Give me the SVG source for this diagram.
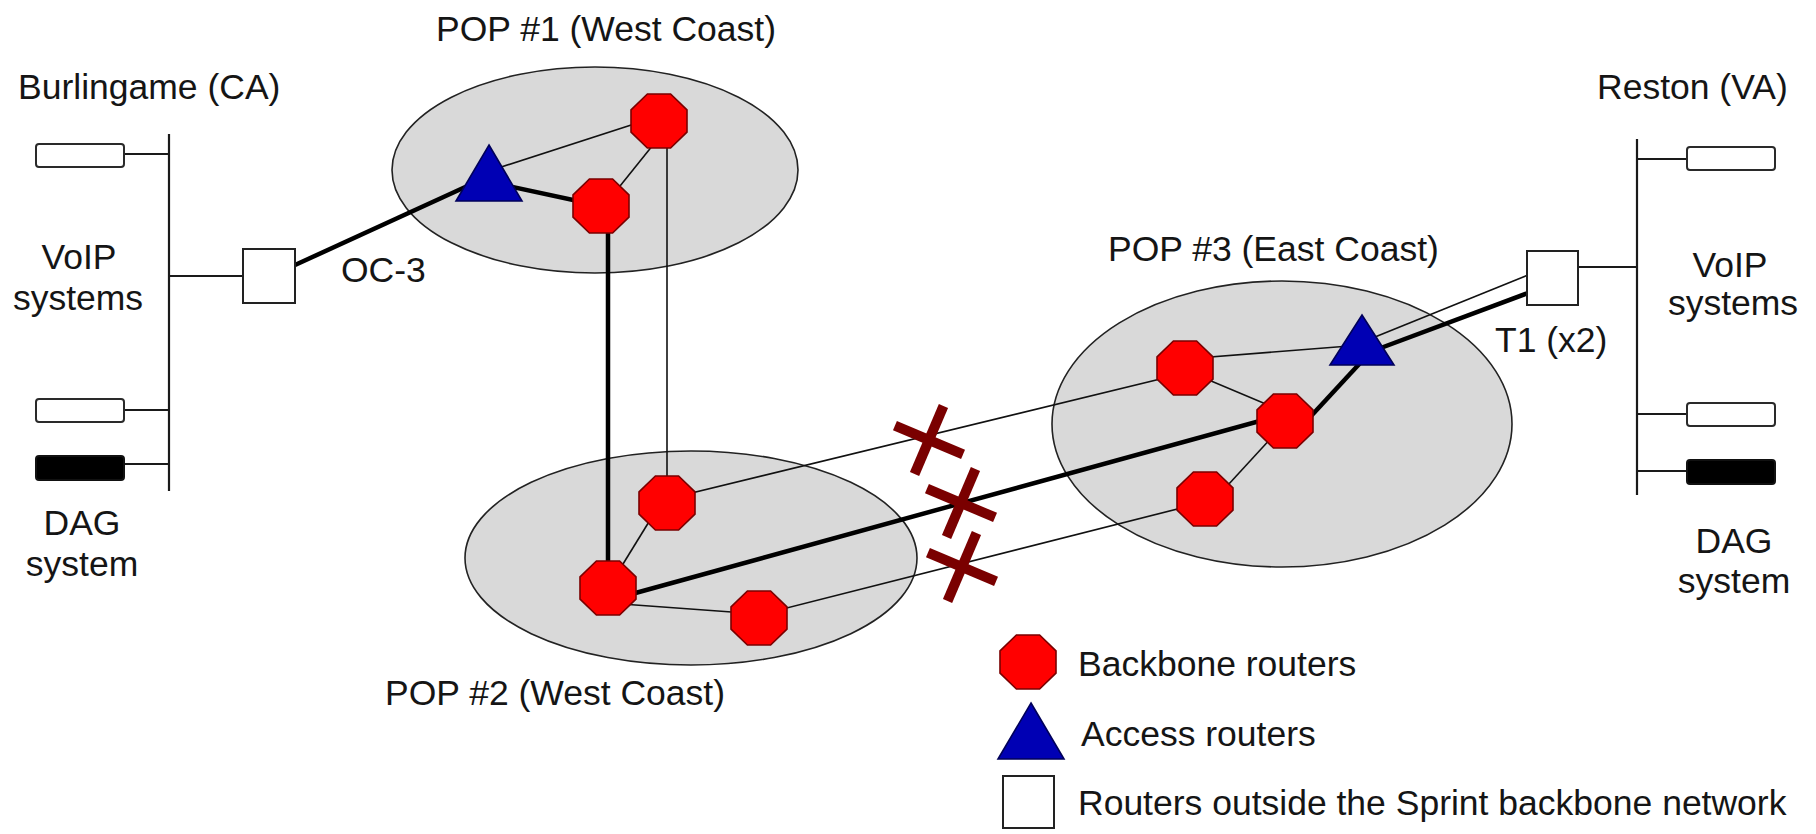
<svg xmlns="http://www.w3.org/2000/svg" xmlns:xlink="http://www.w3.org/1999/xlink" width="1816" height="834" viewBox="0 0 1816 834">
  <style>
    .txt { font-family: "Liberation Sans", Arial, sans-serif; font-size: 35.5px; fill: #151515; }
    .mid { text-anchor: middle; }
    .pop { fill: #d9d9d9; stroke: #222; stroke-width: 1.6; }
    .thin { stroke: #111; stroke-width: 1.6; fill: none; }
    .thick { stroke: #000; stroke-width: 4.5; fill: none; }
    .bus { stroke: #1a1a1a; stroke-width: 2.2; }
    .box { fill: #fff; stroke: #2a2a2a; stroke-width: 2; }
    .dag { fill: #000; stroke: #111; stroke-width: 2; }
    .oct { fill: #ff0000; stroke: #7a0000; stroke-width: 1.6; }
    .tri { fill: #0000b4; stroke: #00005a; stroke-width: 1.6; }
    .sq { fill: #fff; stroke: #222; stroke-width: 2; }
    .cut { stroke: #7a0000; stroke-width: 10; }
  </style>
  <defs>
    <!-- backbone router glyph, centred on the origin -->
    <path id="oct" d="M-11.6,-27 L11.6,-27 L28,-11.2 L28,11.2 L11.6,27 L-11.6,27 L-28,11.2 L-28,-11.2 Z"/>
    <!-- failed-link mark -->
    <g id="xmark">
      <line class="cut" x1="-37" y1="0" x2="37" y2="0"/>
      <line class="cut" x1="0" y1="-37" x2="0" y2="37"/>
    </g>
  </defs>

  <rect width="1816" height="834" fill="#fff"/>

  <!-- points of presence -->
  <g id="regions">
    <ellipse id="pop1" class="pop" cx="595" cy="170" rx="203" ry="103"/>
    <ellipse id="pop2" class="pop" cx="691" cy="558" rx="226" ry="107"/>
    <ellipse id="pop3" class="pop" cx="1282" cy="424" rx="230" ry="143"/>
  </g>

  <!-- links -->
  <g id="connectors">
    <!-- Burlingame LAN -->
    <line class="bus" x1="169" y1="134" x2="169" y2="491"/>
    <line class="bus" x1="124" y1="154" x2="169" y2="154"/>
    <line class="bus" x1="124" y1="410" x2="169" y2="410"/>
    <line class="bus" x1="124" y1="464" x2="169" y2="464"/>
    <line class="bus" x1="169" y1="276" x2="243" y2="276"/>
    <!-- OC-3 access link -->
    <line class="thick" x1="295" y1="265" x2="485" y2="178"/>
    <!-- POP 1 -->
    <line class="thick" x1="489" y1="182" x2="601" y2="206"/>
    <line class="thin" x1="495" y1="169" x2="659" y2="116"/>
    <line class="thin" x1="661" y1="135" x2="612" y2="196"/>
    <!-- POP 1 to POP 2 -->
    <line class="thin" x1="667" y1="121" x2="667" y2="503"/>
    <line class="thick" x1="608" y1="206" x2="608" y2="588"/>
    <!-- POP 2 -->
    <line class="thin" x1="655" y1="512" x2="615" y2="577"/>
    <line class="thin" x1="608" y1="603" x2="759" y2="614"/>
    <!-- POP 2 to POP 3 -->
    <line class="thick" x1="610" y1="600" x2="1285" y2="414"/>
    <line class="thin" x1="667" y1="499" x2="1185" y2="373"/>
    <line class="thin" x1="759" y1="615" x2="1205" y2="502"/>
    <!-- POP 3 -->
    <line class="thin" x1="1185" y1="370" x2="1285" y2="412"/>
    <line class="thin" x1="1285" y1="423" x2="1205" y2="510"/>
    <line class="thin" x1="1185" y1="359" x2="1362" y2="345"/>
    <line class="thick" x1="1300" y1="428" x2="1362" y2="361"/>
    <!-- T1 (x2) access links -->
    <line class="thick" x1="1362" y1="355" x2="1528" y2="293"/>
    <line class="thin" x1="1370" y1="339" x2="1528" y2="275"/>
    <!-- Reston LAN -->
    <line class="bus" x1="1578" y1="267" x2="1637" y2="267"/>
    <line class="bus" x1="1637" y1="139" x2="1637" y2="495"/>
    <line class="bus" x1="1637" y1="159" x2="1687" y2="159"/>
    <line class="bus" x1="1637" y1="414" x2="1687" y2="414"/>
    <line class="bus" x1="1637" y1="471" x2="1687" y2="471"/>
  </g>

  <!-- Burlingame hosts -->
  <g id="burlingame-voip-1"><rect class="box" x="36" y="144" width="88" height="23" rx="3"/></g>
  <g id="burlingame-voip-2"><rect class="box" x="36" y="399" width="88" height="23" rx="3"/></g>
  <g id="burlingame-dag"><rect class="dag" x="36" y="456" width="88" height="24" rx="3"/></g>
  <g id="burlingame-router"><rect class="sq" x="243" y="249" width="52" height="54"/></g>

  <!-- Reston hosts -->
  <g id="reston-voip-1"><rect class="box" x="1687" y="147" width="88" height="23" rx="3"/></g>
  <g id="reston-voip-2"><rect class="box" x="1687" y="403" width="88" height="23" rx="3"/></g>
  <g id="reston-dag"><rect class="dag" x="1687" y="460" width="88" height="24" rx="3"/></g>
  <g id="reston-router"><rect class="sq" x="1527" y="251" width="51" height="54"/></g>

  <!-- POP 1 routers -->
  <g id="pop1-access"><polygon class="tri" points="489,145 522,201 456,201"/></g>
  <g id="pop1-bb-a"><use href="#oct" xlink:href="#oct" class="oct" x="659" y="121"/></g>
  <g id="pop1-bb-b"><use href="#oct" xlink:href="#oct" class="oct" x="601" y="206"/></g>

  <!-- POP 2 routers -->
  <g id="pop2-bb-a"><use href="#oct" xlink:href="#oct" class="oct" x="667" y="503"/></g>
  <g id="pop2-bb-b"><use href="#oct" xlink:href="#oct" class="oct" x="608" y="588"/></g>
  <g id="pop2-bb-c"><use href="#oct" xlink:href="#oct" class="oct" x="759" y="618"/></g>

  <!-- POP 3 routers -->
  <g id="pop3-bb-a"><use href="#oct" xlink:href="#oct" class="oct" x="1185" y="368"/></g>
  <g id="pop3-bb-b"><use href="#oct" xlink:href="#oct" class="oct" x="1285" y="421"/></g>
  <g id="pop3-bb-c"><use href="#oct" xlink:href="#oct" class="oct" x="1205" y="499"/></g>
  <g id="pop3-access"><polygon class="tri" points="1362,315 1394,365 1330,365"/></g>

  <!-- failed inter-POP links -->
  <g id="failures">
    <use href="#xmark" xlink:href="#xmark" transform="translate(929,440) rotate(23)"/>
    <use href="#xmark" xlink:href="#xmark" transform="translate(961,503) rotate(23)"/>
    <use href="#xmark" xlink:href="#xmark" transform="translate(962,567) rotate(23)"/>
  </g>

  <!-- labels -->
  <g id="labels" class="txt">
    <text x="436" y="41">POP #1 (West Coast)</text>
    <text x="385" y="705">POP #2 (West Coast)</text>
    <text x="1108" y="261">POP #3 (East Coast)</text>
    <text x="18" y="99">Burlingame (CA)</text>
    <text x="1597" y="99">Reston (VA)</text>
    <text x="341" y="282">OC-3</text>
    <text x="1495" y="352">T1 (x2)</text>
    <text class="mid" x="79" y="269">VoIP</text>
    <text class="mid" x="78" y="310">systems</text>
    <text class="mid" x="82" y="535">DAG</text>
    <text class="mid" x="82" y="576">system</text>
    <text class="mid" x="1730" y="277">VoIP</text>
    <text class="mid" x="1733" y="315">systems</text>
    <text class="mid" x="1734" y="553">DAG</text>
    <text class="mid" x="1734" y="593">system</text>
  </g>

  <!-- legend -->
  <g id="legend">
    <g id="legend-backbone">
      <use href="#oct" xlink:href="#oct" class="oct" x="1028" y="662"/>
      <text class="txt" x="1078" y="676">Backbone routers</text>
    </g>
    <g id="legend-access">
      <polygon class="tri" points="1031,703 1064,759 998,759"/>
      <text class="txt" x="1081" y="746">Access routers</text>
    </g>
    <g id="legend-outside">
      <rect class="sq" x="1003" y="776" width="51" height="52"/>
      <text class="txt" x="1078" y="815">Routers outside the Sprint backbone network</text>
    </g>
  </g>
</svg>
